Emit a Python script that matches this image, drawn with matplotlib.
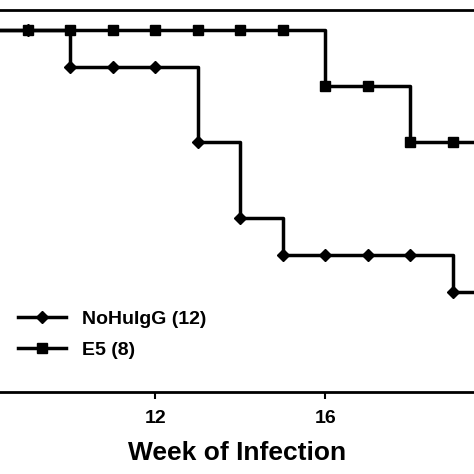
import matplotlib
matplotlib.use("Agg")
import matplotlib.pyplot as plt

weeks = [8, 9, 10, 11, 12, 13, 14, 15, 16, 17, 18, 19, 20]
nohuigg = [100, 100, 91.7, 91.7, 91.7, 75, 58.3, 50, 50, 50, 50, 41.7, 41.7]
e5 = [100, 100, 100, 100, 100, 100, 100, 100, 87.5, 87.5, 75, 75, 75]

plt.rcParams['font.family'] = ['Liberation Sans', 'DejaVu Sans']
plt.rcParams['font.weight'] = 'bold'

fig = plt.figure(figsize=(4.74, 4.74), dpi=100)
ax = fig.add_axes([0, 82 / 474, 1, 382 / 474])

ax.plot(weeks, nohuigg, drawstyle='steps-post', color='black', lw=2.5,
        marker='D', markersize=6, label='NoHuIgG (12)')
ax.plot(weeks, e5, drawstyle='steps-post', color='black', lw=2.5,
        marker='s', markersize=7, label='E5 (8)')

ax.set_xlim(8.35, 19.5)
ax.set_ylim(19.6, 104.4)
ax.set_xticks([12, 16])
ax.set_yticks([])
ax.tick_params(axis='x', labelsize=14, direction='out', length=5, width=1.5, pad=8)
for s in ['left', 'right']:
    ax.spines[s].set_visible(False)
for s in ['top', 'bottom']:
    ax.spines[s].set_linewidth(2)
ax.set_xlabel('Week of Infection', fontsize=19, fontweight='bold', labelpad=10)

ax.legend(loc='lower left', bbox_to_anchor=(0.0, 0.04), frameon=False,
          fontsize=14, handlelength=2.5, labelspacing=0.7)

fig.savefig('out.png', dpi=100)
